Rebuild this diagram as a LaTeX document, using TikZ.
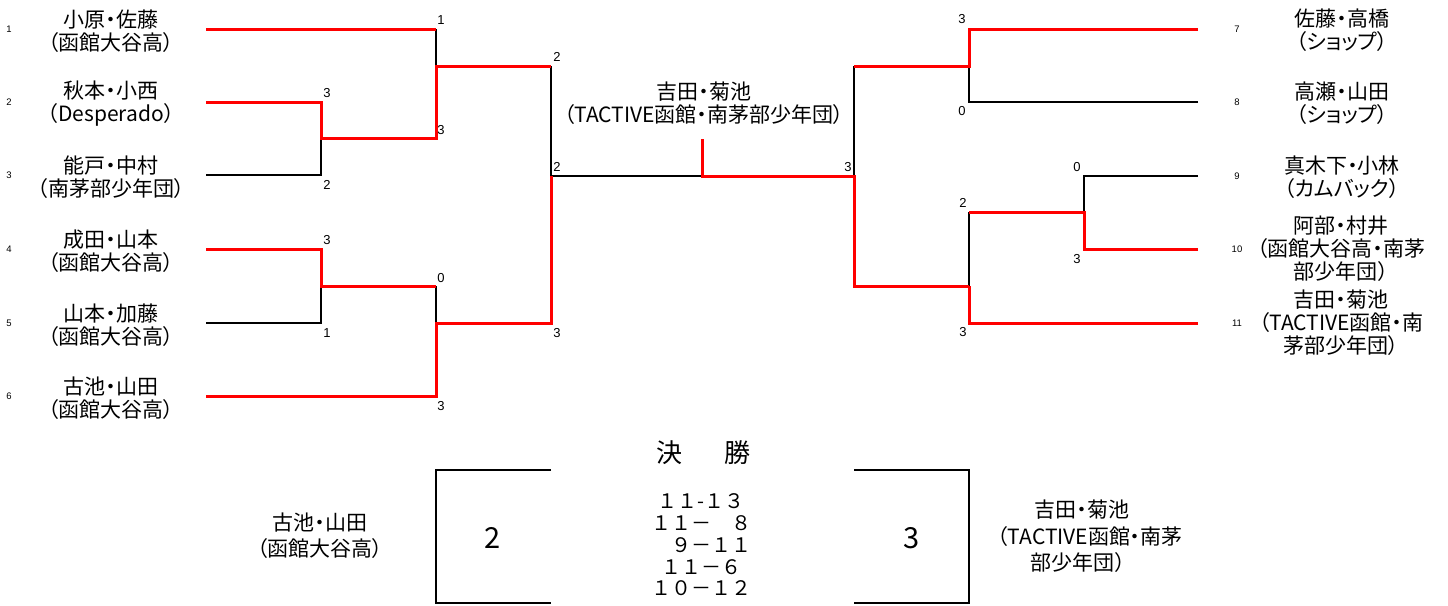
\documentclass[tikz,border=0pt]{standalone}
\usepackage{fontspec}
\setmainfont{Noto Sans CJK JP}[RawFeature=+palt]
\newfontfamily\numfont{Liberation Sans}
\newfontfamily\fwfont{Noto Sans CJK JP}
\tikzset{
  loseline/.style={line width=2pt, black},
  winline/.style={line width=3pt, red, line join=miter},
  pname/.style={font=\fontsize{21}{23}\selectfont, align=center, inner sep=0pt},
  bname/.style={font=\fontsize{21}{26}\selectfont, align=center, inner sep=0pt},
  scorelbl/.style={font=\numfont\fontsize{13}{13}\selectfont, inner sep=0pt},
  idxlbl/.style={font=\numfont\fontsize{9.5}{10}\selectfont, inner sep=0pt},
  bigdigit/.style={font=\fontsize{29}{30}\selectfont, inner sep=0pt},
}
\begin{document}
\begin{tikzpicture}[x=1pt, y=-1pt]
\useasboundingbox (0,0) rectangle (1448,605);
% ---- coordinates: left half
\coordinate (a1) at (206,29);  \coordinate (a1e) at (436,29);
\coordinate (a2) at (206,102); \coordinate (a2e) at (321,102);
\coordinate (a3) at (206,175); \coordinate (a3e) at (321,175);
\coordinate (j23) at (321,138); \coordinate (j23e) at (436,138);
\coordinate (j1) at (436,66);  \coordinate (j1e) at (551,66);
\coordinate (a4) at (206,249); \coordinate (a4e) at (321,249);
\coordinate (a5) at (206,323); \coordinate (a5e) at (321,323);
\coordinate (j45) at (321,286); \coordinate (j45e) at (436,286);
\coordinate (a6) at (206,396); \coordinate (a6e) at (436,396);
\coordinate (j456) at (436,323); \coordinate (j456e) at (551,323);
\coordinate (fL) at (551,176);
\coordinate (fc) at (702,176); \coordinate (fctop) at (702,139);
\coordinate (fR) at (854,176);
% ---- right half
\coordinate (b7) at (1198,29);  \coordinate (b7e) at (969,29);
\coordinate (b8) at (1198,102); \coordinate (b8e) at (969,102);
\coordinate (j78) at (969,66);  \coordinate (j78e) at (854,66);
\coordinate (b9) at (1198,176); \coordinate (b9e) at (1084,176);
\coordinate (b10) at (1198,249); \coordinate (b10e) at (1084,249);
\coordinate (j910) at (1084,212); \coordinate (j910e) at (969,212);
\coordinate (b11) at (1198,323); \coordinate (b11e) at (969,323);
\coordinate (j911) at (969,286); \coordinate (j911e) at (854,286);

% ---- black (losing) lines
\draw[loseline] (a1e) -- (j1);
\draw[loseline] (a3) -- (a3e) -- (j23);
\draw[loseline] (a5) -- (a5e) -- (j45);
\draw[loseline] (j45e) -- (j456);
\draw[loseline] (j1e) -- (fL) -- (fc);
\draw[loseline] (j78e) -- (fR);
\draw[loseline] (b8) -- (b8e) -- (j78);
\draw[loseline] (b9) -- (b9e) -- (j910);
\draw[loseline] (j910e) -- (j911);

% ---- red (winning) lines
\draw[winline] (a1) -- (a1e);
\draw[winline] (a2) -- (a2e) -- (j23) -- (j23e) -- (j1) -- (j1e);
\draw[winline] (a4) -- (a4e) -- (j45) -- (j45e);
\draw[winline] (a6) -- (a6e) -- (j456) -- (j456e) -- (fL);
\draw[winline] (fctop) -- (fc) -- (fR) -- (j911e) -- (j911);
\draw[winline] (b11) -- (b11e) -- (j911);
\draw[winline] (b10) -- (b10e) -- (j910) -- (j910e);
\draw[winline] (b7) -- (b7e) -- (j78) -- (j78e);

% ---- scores on bracket
\node[scorelbl] (s1) at (441,20) {1};
\node[scorelbl] (s2) at (327,93) {3};
\node[scorelbl] (s3) at (441,130) {3};
\node[scorelbl] (s4) at (327,185) {2};
\node[scorelbl] (s5) at (327,240) {3};
\node[scorelbl] (s6) at (441,278) {0};
\node[scorelbl] (s7) at (327,333) {1};
\node[scorelbl] (s8) at (441,406) {3};
\node[scorelbl] (s9) at (557,57) {2};
\node[scorelbl] (s10) at (557,167) {2};
\node[scorelbl] (s11) at (557,333) {3};
\node[scorelbl] (s12) at (848,167) {3};
\node[scorelbl] (s13) at (962,19) {3};
\node[scorelbl] (s14) at (962,111) {0};
\node[scorelbl] (s15) at (1077,167) {0};
\node[scorelbl] (s16) at (1077,259) {3};
\node[scorelbl] (s17) at (963,203) {2};
\node[scorelbl] (s18) at (963,332) {3};

% ---- entry numbers
\node[idxlbl] (n1) at (9,29) {1};
\node[idxlbl] (n2) at (9,102) {2};
\node[idxlbl] (n3) at (9,175) {3};
\node[idxlbl] (n4) at (9,249) {4};
\node[idxlbl] (n5) at (9,323) {5};
\node[idxlbl] (n6) at (9,396) {6};
\node[idxlbl] (n7) at (1237,29) {7};
\node[idxlbl] (n8) at (1237,102) {8};
\node[idxlbl] (n9) at (1237,176) {9};
\node[idxlbl] (n10) at (1237,249) {10};
\node[idxlbl] (n11) at (1237,323) {11};

% ---- names left
\node[pname] (t1) at (111,31) {小原・佐藤\\（函館大谷高）};
\node[pname] (t2) at (111,104) {秋本・小西\\（Desperado）};
\node[pname] (t3) at (111,177) {能戸・中村\\（南茅部少年団）};
\node[pname] (t4) at (111,251) {成田・山本\\（函館大谷高）};
\node[pname] (t5) at (111,325) {山本・加藤\\（函館大谷高）};
\node[pname] (t6) at (111,398) {古池・山田\\（函館大谷高）};
% ---- names right
\node[pname] (t7) at (1342,30) {佐藤・高橋\\（ショップ）};
\node[pname] (t8) at (1342,103) {高瀬・山田\\（ショップ）};
\node[pname] (t9) at (1342,177) {真木下・小林\\（カムバック）};
\node[pname] (t10) at (1341,249) {阿部・村井\\（函館大谷高・南茅\\部少年団）};
\node[pname] (t11) at (1341,323) {吉田・菊池\\（TACTIVE函館・南\\茅部少年団）};
% ---- champion
\node[pname] (champ) at (704,103) {吉田・菊池\\（TACTIVE函館・南茅部少年団）};

% ---- final box
\node[font=\fontsize{26}{27}\selectfont, inner sep=0pt] (ttl) at (703.5,453) {決\hspace{1.65em}勝};
\coordinate (lb1) at (551,470); \coordinate (lb2) at (436,470);
\coordinate (lb3) at (436,603); \coordinate (lb4) at (551,603);
\draw[loseline] (lb1) -- (lb2) -- (lb3) -- (lb4);
\coordinate (rb1) at (854,470); \coordinate (rb2) at (969,470);
\coordinate (rb3) at (969,603); \coordinate (rb4) at (854,603);
\draw[loseline] (rb1) -- (rb2) -- (rb3) -- (rb4);
\node[bigdigit] (gl) at (493,538) {2};
\node[bigdigit] (gr) at (912,538) {3};
\node[font=\fwfont\fontsize{20}{21.8}\selectfont, align=center, inner sep=0pt] (games) at (701,545)
  {１１-１３\\１１－　８\\　９－１１\\１１－６\\１０－１２};
\node[bname] (fl) at (320,536) {古池・山田\\（函館大谷高）};
\node[bname] (fr1) at (1082,510) {吉田・菊池};
\node[bname] (fr2) at (1090,537) {（TACTIVE函館・南茅};
\node[bname] (fr3) at (1078,563) {部少年団）};
\end{tikzpicture}
\end{document}
